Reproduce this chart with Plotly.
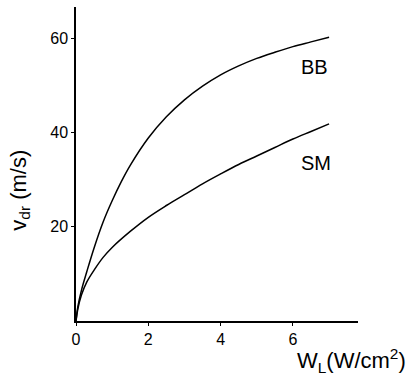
import plotly.graph_objects as go

bb_x = [0, 0.05, 0.15, 0.3, 0.5, 0.75, 1, 1.25, 1.5, 2, 2.5, 3, 3.5, 4, 4.5, 5, 5.5, 6, 6.5, 7]
bb_vals = [0, 3, 6.5, 10.5, 15.5, 21, 25.5, 29.5, 33, 38.8, 43.3, 46.9, 49.8, 52.2, 54.1, 55.7, 57.0, 58.2, 59.2, 60.2]
sm_x = [0, 0.05, 0.15, 0.3, 0.5, 0.75, 1, 1.5, 2, 2.5, 3, 3.5, 4, 4.5, 5, 5.5, 6, 6.5, 7]
sm_vals = [0, 2.5, 5.5, 8.3, 10.8, 13.5, 15.6, 19, 22, 24.5, 26.8, 29.1, 31.2, 33.2, 35, 36.8, 38.6, 40.2, 41.8]
labels = ["BB", "SM"]
label_pos = [(6.6, 53.8), (6.65, 33.6)]

font = "Liberation Sans, Arial, sans-serif"
fig = go.Figure()
for xs, ys in ((bb_x, bb_vals), (sm_x, sm_vals)):
    fig.add_trace(go.Scatter(x=xs, y=ys, mode="lines",
                             line=dict(color="black", width=1.5, shape="spline", smoothing=1.0),
                             showlegend=False, hoverinfo="skip"))
for lab, (lx, ly) in zip(labels, label_pos):
    fig.add_annotation(x=lx, y=ly, text=lab, showarrow=False,
                       font=dict(family=font, size=20, color="black"))

fig.add_annotation(xref="paper", yref="paper", x=1.177, y=-0.125, xanchor="right", yanchor="middle",
                   text="W<sub>L</sub>(W/cm<sup>2</sup>)", showarrow=False,
                   font=dict(family=font, size=22, color="black"))
fig.add_annotation(xref="paper", yref="paper", x=-0.2, y=0.417, xanchor="center", yanchor="middle",
                   text="v<sub>dr</sub> (m/s)", textangle=-90, showarrow=False,
                   font=dict(family=font, size=22, color="black"))

fig.update_layout(
    width=409, height=379,
    margin=dict(l=76, r=51, t=7, b=58),
    paper_bgcolor="white", plot_bgcolor="white",
    xaxis=dict(range=[0, 7.8], tickvals=[0, 2, 4, 6], showgrid=False, zeroline=False,
               showline=True, linecolor="black", linewidth=1.5,
               ticks="outside", ticklen=3, tickcolor="black",
               tickfont=dict(family=font, size=16, color="black")),
    yaxis=dict(range=[0, 66.6], tickvals=[20, 40, 60], showgrid=False, zeroline=False,
               showline=True, linecolor="black", linewidth=1.5,
               ticks="outside", ticklen=3, tickcolor="black",
               tickfont=dict(family=font, size=16, color="black")),
)
fig.write_html("out.html")
